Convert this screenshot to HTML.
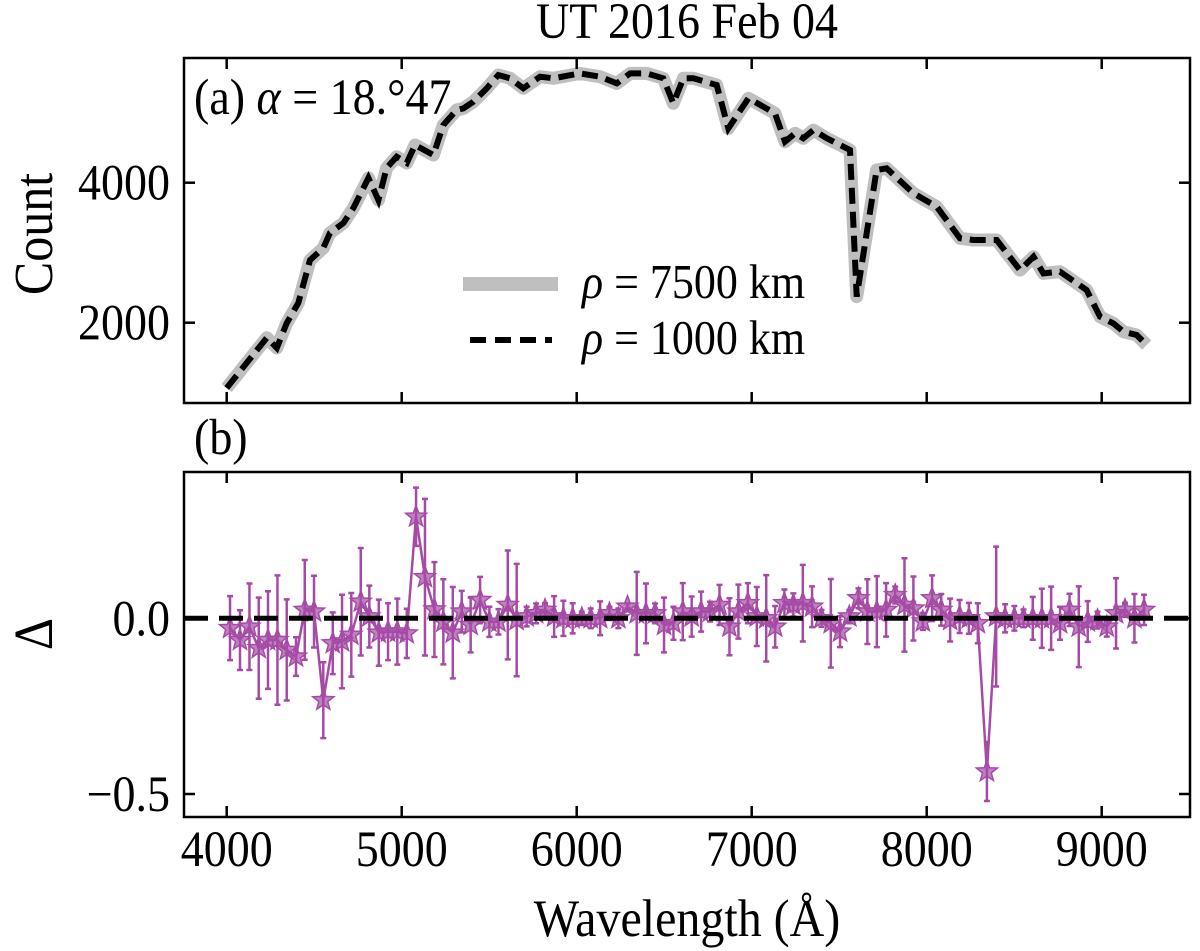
<!DOCTYPE html>
<html><head><meta charset="utf-8"><style>
html,body{margin:0;padding:0;background:#fff;}
svg{display:block;font-family:"Liberation Serif",serif;}
</style></head><body>
<svg id="chart" width="1200" height="951" viewBox="0 0 1200 951" xmlns="http://www.w3.org/2000/svg"></svg>
<script>
const wlTop = [4000,4114,4229,4286,4343,4409,4476,4552,4590,4667,4724,4810,4867,4914,4971,5029,5076,5181,5238,5314,5352,5410,5486,5552,5619,5695,5790,5867,6019,6133,6229,6305,6400,6495,6552,6610,6667,6800,6866,6981,7067,7133,7190,7248,7295,7352,7429,7562,7600,7714,7771,7924,8057,8190,8267,8400,8533,8610,8667,8762,8914,8990,9067,9124,9200,9257];
const countTop = [1067,1424,1786,1638,1995,2281,2895,3067,3281,3424,3638,4067,3752,4210,4371,4281,4538,4395,4824,5038,5062,5157,5348,5538,5491,5348,5514,5491,5562,5514,5419,5562,5562,5491,5134,5491,5491,5395,4776,5205,5086,4990,4586,4705,4634,4752,4634,4467,2371,4181,4205,3848,3657,3205,3181,3181,2752,2943,2705,2729,2467,2086,1990,1871,1824,1681];
const wlRes = [4019,4076,4130,4183,4236,4290,4343,4396,4446,4499,4552,4606,4659,4712,4766,4815,4869,4922,4975,5029,5082,5133,5187,5238,5292,5343,5394,5448,5501,5553,5606,5657,5714,5768,5819,5871,5924,5977,6029,6080,6134,6187,6238,6290,6343,6396,6448,6499,6553,6606,6657,6711,6762,6816,6873,6924,6978,7029,7083,7134,7187,7238,7292,7345,7399,7452,7505,7558,7610,7661,7715,7768,7820,7873,7924,7978,8031,8083,8134,8188,8241,8292,8344,8397,8448,8501,8553,8606,8658,8711,8762,8816,8869,8920,8976,9029,9082,9133,9187,9242];
const deltaRes = [-0.028,-0.062,-0.024,-0.085,-0.062,-0.062,-0.090,-0.109,0.024,0.019,-0.233,-0.071,-0.066,-0.047,0.047,0.005,-0.041,-0.038,-0.038,-0.043,0.289,0.117,0.025,-0.010,-0.041,0.019,-0.019,0.052,-0.010,-0.010,0.038,-0.005,0.005,0.014,0.024,0.005,0,0,0,0,0,0.014,0,0.033,0.014,0.014,0.014,-0.019,-0.014,0.019,0.005,0.019,0.019,0.038,-0.024,0.019,0.043,0.005,0,-0.024,0.043,0.038,0.043,0.033,0,-0.014,-0.038,0.005,0.057,0.019,0.019,0.024,0.066,0.038,0.028,-0.009,0.057,0.024,-0.005,0.005,0,-0.014,-0.436,0.005,0,0,0,0,0,0,-0.014,0.024,-0.024,-0.009,-0.005,-0.024,0.014,0.024,0,0.024];
const errRes = [0.091,0.085,0.123,0.144,0.139,0.184,0.144,0.055,0.142,0.102,0.108,0.088,0.133,0.119,0.153,0.088,0.094,0.081,0.094,0.070,0.083,0.223,0.135,0.121,0.130,0.059,0.078,0.066,0.043,0.036,0.155,0.160,0.028,0.028,0.019,0.058,0.050,0.043,0.019,0.028,0.048,0.019,0.028,0.009,0.118,0.085,0.028,0.078,0.047,0.081,0.057,0.057,0.028,0.057,0.081,0.077,0.057,0.084,0.123,0.059,0.039,0.033,0.109,0.058,0.024,0.126,0.044,0.019,0.028,0.092,0.101,0.076,0.024,0.133,0.091,0.024,0.065,0.045,0.061,0.047,0.044,0.057,0.084,0.199,0.040,0.035,0.025,0.061,0.084,0.090,0.047,0.046,0.115,0.058,0.024,0.028,0.100,0.020,0.069,0.043];
const xTicks = [4000,5000,6000,7000,8000,9000];
const yTicksTop = [2000,4000];
const yTicksBot = [-0.5,0.0];
const yTickLabelsBot = ["\u22120.5","0.0"];

const NS = "http://www.w3.org/2000/svg";
const svg = document.getElementById('chart');
function mk(tag, attrs, parent){const e=document.createElementNS(NS,tag);for(const k in attrs)e.setAttribute(k,attrs[k]);(parent||svg).appendChild(e);return e;}
function tx(x,y,size,anchor,extra,parent){return mk('text',Object.assign({x:0,y:0,'font-size':size,'text-anchor':anchor,transform:`translate(${x},${y}) scale(1,1.1)`},extra||{}),parent);}

const L=184,R=1190,T1=58,B1=403,T2=472,B2=817;
const xs = w => 226.7 + (w-4000)*0.175;
const y1 = c => 182.7 - (c-4000)*0.07;
const y2 = d => 618.3 - d*351.4;

let t=tx(687,38,46,'middle');t.textContent='UT 2016 Feb 04';


t=tx(687,936,48,'middle');t.textContent='Wavelength (Å)';


t=mk('text',{x:0,y:0,'font-size':50,'text-anchor':'middle',transform:'translate(52,234) rotate(-90) scale(1,1.1)'});t.textContent='Count';


t=mk('text',{x:0,y:0,'font-size':50,'text-anchor':'middle',transform:'translate(52,634) rotate(-90) scale(1,1.1)'});t.textContent='Δ';


t=tx(194,114,46,'start');t.innerHTML='(a) <tspan font-style="italic">α</tspan> = 18.°47';


t=tx(194,454,46,'start');t.textContent='(b)';



const pts = wlTop.map((w,i)=>xs(w).toFixed(1)+','+y1(countTop[i]).toFixed(1)).join(' ');
let p=mk('polyline',{points:pts,fill:'none',stroke:'#bfbfbf','stroke-width':13,'stroke-linejoin':'round'});


p=mk('polyline',{points:pts,fill:'none',stroke:'#000','stroke-width':6,'stroke-dasharray':'16,8'});



const lg=mk('g',{});


mk('line',{x1:463,y1:284,x2:558,y2:284,stroke:'#bfbfbf','stroke-width':14},lg);
mk('line',{x1:470,y1:340,x2:552,y2:340,stroke:'#000','stroke-width':6,'stroke-dasharray':'16,9'},lg);
t=tx(582,298,44,'start',{},lg);t.innerHTML='<tspan font-style="italic">ρ</tspan> = 7500 km';


t=tx(582,354,44,'start',{},lg);t.innerHTML='<tspan font-style="italic">ρ</tspan> = 1000 km';



const rg=mk('g',{opacity:0.7});


mk('polyline',{points:wlRes.map((w,i)=>xs(w).toFixed(1)+','+y2(deltaRes[i]).toFixed(1)).join(' '),fill:'none',stroke:'#800080','stroke-width':2.5},rg);
function star(cx,cy,r){let s='';for(let k=0;k<10;k++){const a=-Math.PI/2+k*Math.PI/5;const rr=k%2?r*0.42:r;s+=(cx+rr*Math.cos(a)).toFixed(1)+','+(cy+rr*Math.sin(a)).toFixed(1)+' ';}return s;}
wlRes.forEach((w,i)=>{
  const x=xs(w),yt=y2(deltaRes[i]+errRes[i]),yb=y2(deltaRes[i]-errRes[i]);
  const e=mk('path',{d:`M${x},${yt}V${yb}M${x-3},${yt}H${x+3}M${x-3},${yb}H${x+3}`,stroke:'#800080','stroke-width':2.5,fill:'none'},rg);
  
  
  const s=mk('polygon',{points:star(x,y2(deltaRes[i]),11),fill:'#800080',stroke:'#800080','stroke-width':1.5,'fill-opacity':0.7},rg);
  
  
});

let z=mk('line',{x1:L,x2:R,y1:y2(0),y2:y2(0),stroke:'#000','stroke-width':5,'stroke-dasharray':'24,11'});



[[T1,B1,'top'],[T2,B2,'bottom']].forEach(([T,B,n])=>{
  const f=mk('rect',{x:L,y:T,width:R-L,height:B-T,fill:'none',stroke:'#000','stroke-width':2.5});
  
  
  xTicks.forEach(v=>{const x=xs(v);mk('line',{x1:x,x2:x,y1:T,y2:T+11,stroke:'#000','stroke-width':2.5});mk('line',{x1:x,x2:x,y1:B,y2:B-11,stroke:'#000','stroke-width':2.5});});
});
yTicksTop.forEach(v=>{const y=y1(v);mk('line',{x1:L,x2:L+11,y1:y,y2:y,stroke:'#000','stroke-width':2.5});mk('line',{x1:R,x2:R-11,y1:y,y2:y,stroke:'#000','stroke-width':2.5});
  const tl=tx(170,y+17,46,'end');tl.textContent=String(v);
  
  });
yTicksBot.forEach((v,i)=>{const y=y2(v);mk('line',{x1:L,x2:L+11,y1:y,y2:y,stroke:'#000','stroke-width':2.5});mk('line',{x1:R,x2:R-11,y1:y,y2:y,stroke:'#000','stroke-width':2.5});
  const tl=tx(170,y+17,46,'end');tl.textContent=yTickLabelsBot[i];
  
  });
xTicks.forEach(v=>{const tl=tx(xs(v),866,46,'middle');tl.textContent=String(v);
  
  });
</script>
</body></html>
